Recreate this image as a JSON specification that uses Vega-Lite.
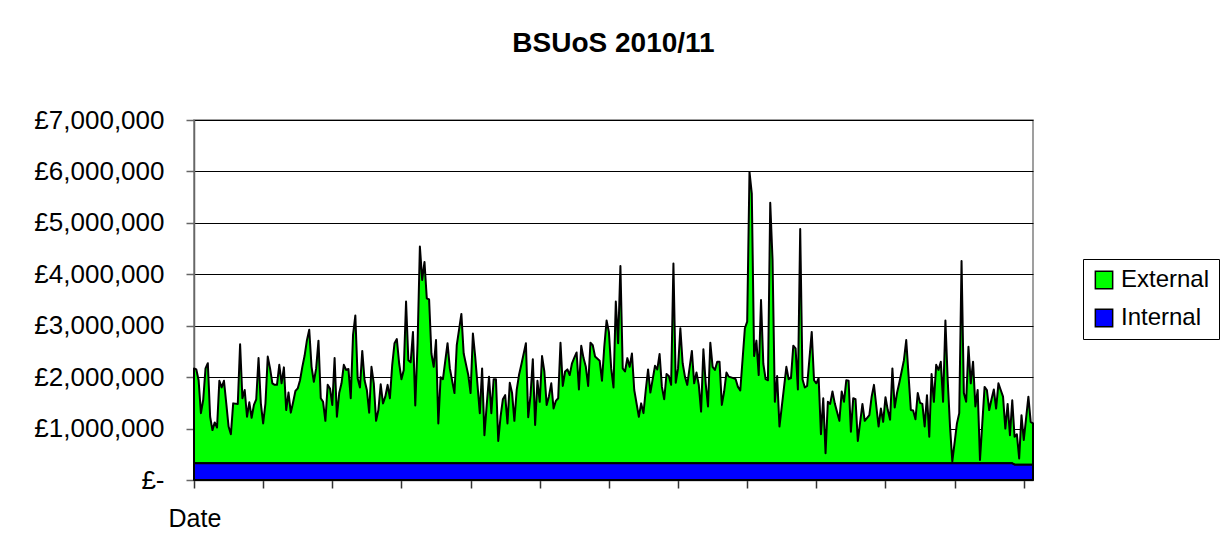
{
"$schema": "https://vega.github.io/schema/vega-lite/v6.json",
"width": 839,
"height": 360,
"autosize": {"type": "none"},
"padding": {"left": 194, "top": 120, "right": 191, "bottom": 78},
"background": "white",
"title": {"text": "BSUoS 2010/11", "font": "Liberation Sans", "fontSize": 28, "fontWeight": "bold", "color": "black", "anchor": "middle", "offset": 49},
"data": {"format": {"parse": {"Date": "date:'%Y-%m-%d'"}}, "values": [
{"Date":"2010-04-01","Internal":324000,"External":1846000},
{"Date":"2010-04-02","Internal":324000,"External":1826000},
{"Date":"2010-04-03","Internal":324000,"External":1616000},
{"Date":"2010-04-04","Internal":324000,"External":976000},
{"Date":"2010-04-05","Internal":324000,"External":1236000},
{"Date":"2010-04-06","Internal":324000,"External":1846000},
{"Date":"2010-04-07","Internal":324000,"External":1946000},
{"Date":"2010-04-08","Internal":324000,"External":906000},
{"Date":"2010-04-09","Internal":324000,"External":646000},
{"Date":"2010-04-10","Internal":324000,"External":796000},
{"Date":"2010-04-11","Internal":324000,"External":696000},
{"Date":"2010-04-12","Internal":324000,"External":1606000},
{"Date":"2010-04-13","Internal":324000,"External":1476000},
{"Date":"2010-04-14","Internal":324000,"External":1606000},
{"Date":"2010-04-15","Internal":324000,"External":1166000},
{"Date":"2010-04-16","Internal":324000,"External":716000},
{"Date":"2010-04-17","Internal":324000,"External":566000},
{"Date":"2010-04-18","Internal":324000,"External":1166000},
{"Date":"2010-04-20","Internal":324000,"External":1156000},
{"Date":"2010-04-21","Internal":324000,"External":2316000},
{"Date":"2010-04-22","Internal":324000,"External":1266000},
{"Date":"2010-04-23","Internal":324000,"External":1426000},
{"Date":"2010-04-24","Internal":324000,"External":906000},
{"Date":"2010-04-25","Internal":324000,"External":1186000},
{"Date":"2010-04-26","Internal":324000,"External":886000},
{"Date":"2010-04-27","Internal":324000,"External":1136000},
{"Date":"2010-04-28","Internal":324000,"External":1246000},
{"Date":"2010-04-29","Internal":324000,"External":2046000},
{"Date":"2010-04-30","Internal":324000,"External":1166000},
{"Date":"2010-05-01","Internal":324000,"External":776000},
{"Date":"2010-05-02","Internal":324000,"External":1166000},
{"Date":"2010-05-03","Internal":324000,"External":2076000},
{"Date":"2010-05-04","Internal":324000,"External":1846000},
{"Date":"2010-05-05","Internal":324000,"External":1556000},
{"Date":"2010-05-06","Internal":324000,"External":1526000},
{"Date":"2010-05-07","Internal":324000,"External":1526000},
{"Date":"2010-05-08","Internal":324000,"External":1916000},
{"Date":"2010-05-09","Internal":324000,"External":1556000},
{"Date":"2010-05-10","Internal":324000,"External":1866000},
{"Date":"2010-05-11","Internal":324000,"External":1036000},
{"Date":"2010-05-12","Internal":324000,"External":1376000},
{"Date":"2010-05-13","Internal":324000,"External":986000},
{"Date":"2010-05-14","Internal":324000,"External":1186000},
{"Date":"2010-05-15","Internal":324000,"External":1406000},
{"Date":"2010-05-16","Internal":324000,"External":1456000},
{"Date":"2010-05-17","Internal":324000,"External":1616000},
{"Date":"2010-05-18","Internal":324000,"External":1876000},
{"Date":"2010-05-19","Internal":324000,"External":2096000},
{"Date":"2010-05-20","Internal":324000,"External":2396000},
{"Date":"2010-05-21","Internal":324000,"External":2596000},
{"Date":"2010-05-22","Internal":324000,"External":1876000},
{"Date":"2010-05-23","Internal":324000,"External":1586000},
{"Date":"2010-05-24","Internal":324000,"External":1846000},
{"Date":"2010-05-25","Internal":324000,"External":2386000},
{"Date":"2010-05-26","Internal":324000,"External":1266000},
{"Date":"2010-05-27","Internal":324000,"External":1196000},
{"Date":"2010-05-28","Internal":324000,"External":826000},
{"Date":"2010-05-29","Internal":324000,"External":1526000},
{"Date":"2010-05-30","Internal":324000,"External":1456000},
{"Date":"2010-05-31","Internal":324000,"External":1136000},
{"Date":"2010-06-01","Internal":324000,"External":2046000},
{"Date":"2010-06-02","Internal":324000,"External":906000},
{"Date":"2010-06-03","Internal":324000,"External":1366000},
{"Date":"2010-06-04","Internal":324000,"External":1556000},
{"Date":"2010-06-05","Internal":324000,"External":1916000},
{"Date":"2010-06-06","Internal":324000,"External":1816000},
{"Date":"2010-06-07","Internal":324000,"External":1836000},
{"Date":"2010-06-08","Internal":324000,"External":1266000},
{"Date":"2010-06-09","Internal":324000,"External":2496000},
{"Date":"2010-06-10","Internal":324000,"External":2876000},
{"Date":"2010-06-11","Internal":324000,"External":1656000},
{"Date":"2010-06-12","Internal":324000,"External":1476000},
{"Date":"2010-06-13","Internal":324000,"External":2186000},
{"Date":"2010-06-14","Internal":324000,"External":1616000},
{"Date":"2010-06-15","Internal":324000,"External":1426000},
{"Date":"2010-06-16","Internal":324000,"External":986000},
{"Date":"2010-06-17","Internal":324000,"External":1876000},
{"Date":"2010-06-18","Internal":324000,"External":1556000},
{"Date":"2010-06-19","Internal":324000,"External":826000},
{"Date":"2010-06-20","Internal":324000,"External":1036000},
{"Date":"2010-06-21","Internal":324000,"External":1536000},
{"Date":"2010-06-22","Internal":324000,"External":1166000},
{"Date":"2010-06-23","Internal":324000,"External":1296000},
{"Date":"2010-06-24","Internal":324000,"External":1526000},
{"Date":"2010-06-25","Internal":324000,"External":1266000},
{"Date":"2010-06-26","Internal":324000,"External":1916000},
{"Date":"2010-06-27","Internal":324000,"External":2336000},
{"Date":"2010-06-28","Internal":324000,"External":2416000},
{"Date":"2010-06-29","Internal":324000,"External":1946000},
{"Date":"2010-06-30","Internal":324000,"External":1636000},
{"Date":"2010-07-01","Internal":324000,"External":1816000},
{"Date":"2010-07-02","Internal":324000,"External":3146000},
{"Date":"2010-07-03","Internal":324000,"External":2006000},
{"Date":"2010-07-04","Internal":324000,"External":1966000},
{"Date":"2010-07-05","Internal":324000,"External":2556000},
{"Date":"2010-07-06","Internal":324000,"External":1126000},
{"Date":"2010-07-07","Internal":324000,"External":2336000},
{"Date":"2010-07-08","Internal":324000,"External":4216000},
{"Date":"2010-07-09","Internal":324000,"External":3566000},
{"Date":"2010-07-10","Internal":324000,"External":3916000},
{"Date":"2010-07-11","Internal":324000,"External":3206000},
{"Date":"2010-07-12","Internal":324000,"External":3186000},
{"Date":"2010-07-13","Internal":324000,"External":2136000},
{"Date":"2010-07-14","Internal":324000,"External":1876000},
{"Date":"2010-07-15","Internal":324000,"External":2396000},
{"Date":"2010-07-16","Internal":324000,"External":776000},
{"Date":"2010-07-17","Internal":324000,"External":1676000},
{"Date":"2010-07-18","Internal":324000,"External":1636000},
{"Date":"2010-07-20","Internal":324000,"External":2336000},
{"Date":"2010-07-21","Internal":324000,"External":1846000},
{"Date":"2010-07-23","Internal":324000,"External":1366000},
{"Date":"2010-07-24","Internal":324000,"External":2296000},
{"Date":"2010-07-26","Internal":324000,"External":2906000},
{"Date":"2010-07-27","Internal":324000,"External":2136000},
{"Date":"2010-07-29","Internal":324000,"External":1716000},
{"Date":"2010-07-30","Internal":324000,"External":1366000},
{"Date":"2010-07-31","Internal":324000,"External":2526000},
{"Date":"2010-08-01","Internal":324000,"External":2076000},
{"Date":"2010-08-03","Internal":324000,"External":976000},
{"Date":"2010-08-04","Internal":324000,"External":1846000},
{"Date":"2010-08-05","Internal":324000,"External":546000},
{"Date":"2010-08-06","Internal":324000,"External":1136000},
{"Date":"2010-08-07","Internal":324000,"External":1686000},
{"Date":"2010-08-08","Internal":324000,"External":976000},
{"Date":"2010-08-09","Internal":324000,"External":1636000},
{"Date":"2010-08-10","Internal":324000,"External":1636000},
{"Date":"2010-08-11","Internal":324000,"External":436000},
{"Date":"2010-08-12","Internal":324000,"External":906000},
{"Date":"2010-08-13","Internal":324000,"External":1246000},
{"Date":"2010-08-14","Internal":324000,"External":1326000},
{"Date":"2010-08-15","Internal":324000,"External":776000},
{"Date":"2010-08-16","Internal":324000,"External":1566000},
{"Date":"2010-08-17","Internal":324000,"External":1366000},
{"Date":"2010-08-18","Internal":324000,"External":826000},
{"Date":"2010-08-19","Internal":324000,"External":1426000},
{"Date":"2010-08-20","Internal":324000,"External":1716000},
{"Date":"2010-08-21","Internal":324000,"External":1916000},
{"Date":"2010-08-23","Internal":324000,"External":2336000},
{"Date":"2010-08-24","Internal":324000,"External":896000},
{"Date":"2010-08-25","Internal":324000,"External":1326000},
{"Date":"2010-08-26","Internal":324000,"External":2026000},
{"Date":"2010-08-27","Internal":324000,"External":746000},
{"Date":"2010-08-28","Internal":324000,"External":1606000},
{"Date":"2010-08-29","Internal":324000,"External":1196000},
{"Date":"2010-08-30","Internal":324000,"External":2086000},
{"Date":"2010-08-31","Internal":324000,"External":1786000},
{"Date":"2010-09-01","Internal":324000,"External":1136000},
{"Date":"2010-09-02","Internal":324000,"External":1306000},
{"Date":"2010-09-03","Internal":324000,"External":1556000},
{"Date":"2010-09-04","Internal":324000,"External":1066000},
{"Date":"2010-09-05","Internal":324000,"External":1216000},
{"Date":"2010-09-06","Internal":324000,"External":1266000},
{"Date":"2010-09-07","Internal":324000,"External":2346000},
{"Date":"2010-09-08","Internal":324000,"External":1506000},
{"Date":"2010-09-09","Internal":324000,"External":1786000},
{"Date":"2010-09-10","Internal":324000,"External":1826000},
{"Date":"2010-09-11","Internal":324000,"External":1716000},
{"Date":"2010-09-12","Internal":324000,"External":1946000},
{"Date":"2010-09-13","Internal":324000,"External":2056000},
{"Date":"2010-09-14","Internal":324000,"External":2156000},
{"Date":"2010-09-15","Internal":324000,"External":1436000},
{"Date":"2010-09-16","Internal":324000,"External":2286000},
{"Date":"2010-09-17","Internal":324000,"External":2046000},
{"Date":"2010-09-18","Internal":324000,"External":1876000},
{"Date":"2010-09-19","Internal":324000,"External":1506000},
{"Date":"2010-09-20","Internal":324000,"External":2346000},
{"Date":"2010-09-21","Internal":324000,"External":2296000},
{"Date":"2010-09-22","Internal":324000,"External":2076000},
{"Date":"2010-09-24","Internal":324000,"External":1996000},
{"Date":"2010-09-25","Internal":324000,"External":1606000},
{"Date":"2010-09-26","Internal":324000,"External":2266000},
{"Date":"2010-09-27","Internal":324000,"External":2776000},
{"Date":"2010-09-28","Internal":324000,"External":2556000},
{"Date":"2010-09-29","Internal":324000,"External":1846000},
{"Date":"2010-09-30","Internal":324000,"External":1476000},
{"Date":"2010-10-01","Internal":324000,"External":3146000},
{"Date":"2010-10-02","Internal":324000,"External":2336000},
{"Date":"2010-10-03","Internal":324000,"External":3836000},
{"Date":"2010-10-04","Internal":324000,"External":1846000},
{"Date":"2010-10-05","Internal":324000,"External":1786000},
{"Date":"2010-10-06","Internal":324000,"External":2046000},
{"Date":"2010-10-07","Internal":324000,"External":1876000},
{"Date":"2010-10-08","Internal":324000,"External":2136000},
{"Date":"2010-10-09","Internal":324000,"External":1426000},
{"Date":"2010-10-11","Internal":324000,"External":906000},
{"Date":"2010-10-12","Internal":324000,"External":1166000},
{"Date":"2010-10-13","Internal":324000,"External":976000},
{"Date":"2010-10-14","Internal":324000,"External":1426000},
{"Date":"2010-10-15","Internal":324000,"External":1826000},
{"Date":"2010-10-16","Internal":324000,"External":1376000},
{"Date":"2010-10-18","Internal":324000,"External":1896000},
{"Date":"2010-10-19","Internal":324000,"External":1826000},
{"Date":"2010-10-20","Internal":324000,"External":2126000},
{"Date":"2010-10-21","Internal":324000,"External":1486000},
{"Date":"2010-10-22","Internal":324000,"External":1246000},
{"Date":"2010-10-23","Internal":324000,"External":1736000},
{"Date":"2010-10-24","Internal":324000,"External":1696000},
{"Date":"2010-10-25","Internal":324000,"External":1526000},
{"Date":"2010-10-26","Internal":324000,"External":3886000},
{"Date":"2010-10-27","Internal":324000,"External":1566000},
{"Date":"2010-10-28","Internal":324000,"External":1846000},
{"Date":"2010-10-29","Internal":324000,"External":2626000},
{"Date":"2010-10-30","Internal":324000,"External":1946000},
{"Date":"2010-10-31","Internal":324000,"External":1686000},
{"Date":"2010-11-01","Internal":324000,"External":1526000},
{"Date":"2010-11-03","Internal":324000,"External":2186000},
{"Date":"2010-11-04","Internal":324000,"External":1556000},
{"Date":"2010-11-05","Internal":324000,"External":1766000},
{"Date":"2010-11-06","Internal":324000,"External":1526000},
{"Date":"2010-11-07","Internal":324000,"External":1006000},
{"Date":"2010-11-08","Internal":324000,"External":2216000},
{"Date":"2010-11-09","Internal":324000,"External":1556000},
{"Date":"2010-11-10","Internal":324000,"External":1106000},
{"Date":"2010-11-11","Internal":324000,"External":2346000},
{"Date":"2010-11-12","Internal":324000,"External":1876000},
{"Date":"2010-11-13","Internal":324000,"External":1816000},
{"Date":"2010-11-14","Internal":324000,"External":1976000},
{"Date":"2010-11-15","Internal":324000,"External":1976000},
{"Date":"2010-11-16","Internal":324000,"External":1136000},
{"Date":"2010-11-17","Internal":324000,"External":1396000},
{"Date":"2010-11-18","Internal":324000,"External":1766000},
{"Date":"2010-11-19","Internal":324000,"External":1686000},
{"Date":"2010-11-21","Internal":324000,"External":1656000},
{"Date":"2010-11-22","Internal":324000,"External":1636000},
{"Date":"2010-11-23","Internal":324000,"External":1486000},
{"Date":"2010-11-24","Internal":324000,"External":1416000},
{"Date":"2010-11-26","Internal":324000,"External":2626000},
{"Date":"2010-11-27","Internal":324000,"External":2756000},
{"Date":"2010-11-28","Internal":324000,"External":5666000},
{"Date":"2010-11-29","Internal":324000,"External":5246000},
{"Date":"2010-11-30","Internal":324000,"External":2086000},
{"Date":"2010-12-01","Internal":324000,"External":2386000},
{"Date":"2010-12-02","Internal":324000,"External":1716000},
{"Date":"2010-12-03","Internal":324000,"External":3176000},
{"Date":"2010-12-04","Internal":324000,"External":1936000},
{"Date":"2010-12-05","Internal":324000,"External":1636000},
{"Date":"2010-12-06","Internal":324000,"External":1616000},
{"Date":"2010-12-07","Internal":324000,"External":5066000},
{"Date":"2010-12-08","Internal":324000,"External":3956000},
{"Date":"2010-12-09","Internal":324000,"External":1196000},
{"Date":"2010-12-10","Internal":324000,"External":1696000},
{"Date":"2010-12-11","Internal":324000,"External":716000},
{"Date":"2010-12-13","Internal":324000,"External":1486000},
{"Date":"2010-12-14","Internal":324000,"External":1876000},
{"Date":"2010-12-15","Internal":324000,"External":1636000},
{"Date":"2010-12-16","Internal":324000,"External":1656000},
{"Date":"2010-12-17","Internal":324000,"External":2286000},
{"Date":"2010-12-18","Internal":324000,"External":2236000},
{"Date":"2010-12-19","Internal":324000,"External":1436000},
{"Date":"2010-12-20","Internal":324000,"External":4556000},
{"Date":"2010-12-21","Internal":324000,"External":1636000},
{"Date":"2010-12-22","Internal":324000,"External":1476000},
{"Date":"2010-12-23","Internal":324000,"External":1506000},
{"Date":"2010-12-25","Internal":324000,"External":2556000},
{"Date":"2010-12-26","Internal":324000,"External":1616000},
{"Date":"2010-12-27","Internal":324000,"External":1556000},
{"Date":"2010-12-28","Internal":324000,"External":1656000},
{"Date":"2010-12-29","Internal":324000,"External":566000},
{"Date":"2010-12-30","Internal":324000,"External":1266000},
{"Date":"2010-12-31","Internal":324000,"External":196000},
{"Date":"2011-01-01","Internal":324000,"External":1196000},
{"Date":"2011-01-02","Internal":324000,"External":1156000},
{"Date":"2011-01-03","Internal":324000,"External":1396000},
{"Date":"2011-01-04","Internal":324000,"External":1166000},
{"Date":"2011-01-06","Internal":324000,"External":826000},
{"Date":"2011-01-07","Internal":324000,"External":1396000},
{"Date":"2011-01-08","Internal":324000,"External":1196000},
{"Date":"2011-01-09","Internal":324000,"External":1616000},
{"Date":"2011-01-10","Internal":324000,"External":1606000},
{"Date":"2011-01-11","Internal":324000,"External":616000},
{"Date":"2011-01-12","Internal":324000,"External":1266000},
{"Date":"2011-01-13","Internal":324000,"External":1246000},
{"Date":"2011-01-14","Internal":324000,"External":436000},
{"Date":"2011-01-16","Internal":324000,"External":1156000},
{"Date":"2011-01-17","Internal":324000,"External":826000},
{"Date":"2011-01-19","Internal":324000,"External":936000},
{"Date":"2011-01-20","Internal":324000,"External":1296000},
{"Date":"2011-01-21","Internal":324000,"External":1526000},
{"Date":"2011-01-23","Internal":324000,"External":716000},
{"Date":"2011-01-24","Internal":324000,"External":1066000},
{"Date":"2011-01-25","Internal":324000,"External":806000},
{"Date":"2011-01-26","Internal":324000,"External":1286000},
{"Date":"2011-01-27","Internal":324000,"External":1036000},
{"Date":"2011-01-28","Internal":324000,"External":846000},
{"Date":"2011-01-29","Internal":324000,"External":1846000},
{"Date":"2011-01-30","Internal":324000,"External":1086000},
{"Date":"2011-01-31","Internal":324000,"External":1366000},
{"Date":"2011-02-01","Internal":324000,"External":1566000},
{"Date":"2011-02-02","Internal":324000,"External":1786000},
{"Date":"2011-02-03","Internal":324000,"External":2006000},
{"Date":"2011-02-04","Internal":324000,"External":2396000},
{"Date":"2011-02-06","Internal":324000,"External":1036000},
{"Date":"2011-02-07","Internal":324000,"External":1026000},
{"Date":"2011-02-08","Internal":324000,"External":856000},
{"Date":"2011-02-09","Internal":324000,"External":1366000},
{"Date":"2011-02-10","Internal":324000,"External":1176000},
{"Date":"2011-02-11","Internal":324000,"External":1156000},
{"Date":"2011-02-12","Internal":324000,"External":716000},
{"Date":"2011-02-13","Internal":324000,"External":1326000},
{"Date":"2011-02-14","Internal":324000,"External":516000},
{"Date":"2011-02-15","Internal":324000,"External":1736000},
{"Date":"2011-02-16","Internal":324000,"External":1196000},
{"Date":"2011-02-17","Internal":324000,"External":1916000},
{"Date":"2011-02-18","Internal":324000,"External":1816000},
{"Date":"2011-02-19","Internal":324000,"External":1976000},
{"Date":"2011-02-20","Internal":324000,"External":1196000},
{"Date":"2011-02-21","Internal":324000,"External":2776000},
{"Date":"2011-02-22","Internal":324000,"External":1616000},
{"Date":"2011-02-23","Internal":324000,"External":716000},
{"Date":"2011-02-24","Internal":324000,"External":36000},
{"Date":"2011-02-26","Internal":324000,"External":776000},
{"Date":"2011-02-27","Internal":324000,"External":976000},
{"Date":"2011-02-28","Internal":324000,"External":3936000},
{"Date":"2011-03-01","Internal":324000,"External":1366000},
{"Date":"2011-03-02","Internal":324000,"External":1196000},
{"Date":"2011-03-03","Internal":324000,"External":2266000},
{"Date":"2011-03-04","Internal":324000,"External":1556000},
{"Date":"2011-03-05","Internal":324000,"External":1976000},
{"Date":"2011-03-06","Internal":324000,"External":1106000},
{"Date":"2011-03-07","Internal":324000,"External":1426000},
{"Date":"2011-03-08","Internal":324000,"External":66000},
{"Date":"2011-03-09","Internal":324000,"External":776000},
{"Date":"2011-03-10","Internal":324000,"External":1486000},
{"Date":"2011-03-11","Internal":324000,"External":1426000},
{"Date":"2011-03-12","Internal":324000,"External":1036000},
{"Date":"2011-03-13","Internal":324000,"External":1246000},
{"Date":"2011-03-14","Internal":324000,"External":1436000},
{"Date":"2011-03-15","Internal":324000,"External":1066000},
{"Date":"2011-03-16","Internal":324000,"External":1556000},
{"Date":"2011-03-17","Internal":324000,"External":1426000},
{"Date":"2011-03-18","Internal":324000,"External":1296000},
{"Date":"2011-03-19","Internal":324000,"External":676000},
{"Date":"2011-03-20","Internal":324000,"External":1156000},
{"Date":"2011-03-21","Internal":324000,"External":546000},
{"Date":"2011-03-22","Internal":324000,"External":1226000},
{"Date":"2011-03-23","Internal":298000,"External":542000},
{"Date":"2011-03-24","Internal":298000,"External":592000},
{"Date":"2011-03-25","Internal":298000,"External":122000},
{"Date":"2011-03-26","Internal":298000,"External":962000},
{"Date":"2011-03-27","Internal":298000,"External":482000},
{"Date":"2011-03-29","Internal":298000,"External":1322000},
{"Date":"2011-03-30","Internal":298000,"External":832000},
{"Date":"2011-03-31","Internal":298000,"External":802000}
]},
"transform": [{"fold": ["External", "Internal"], "as": ["Type", "Value"]}],
"mark": {"type": "area", "stroke": "black", "strokeWidth": 2, "strokeJoin": "round", "opacity": 1, "fillOpacity": 1},
"encoding": {
"x": {"field": "Date", "type": "temporal",
"scale": {"domain": [{"year": 2010, "month": 4, "date": 1}, {"year": 2011, "month": 3, "date": 31}], "nice": false},
"axis": {"title": "Date", "labels": false, "grid": false,
"values": [{"year": 2010, "month": 4, "date": 1}, {"year": 2010, "month": 5, "date": 1}, {"year": 2010, "month": 5, "date": 31}, {"year": 2010, "month": 6, "date": 30}, {"year": 2010, "month": 7, "date": 30}, {"year": 2010, "month": 8, "date": 29}, {"year": 2010, "month": 9, "date": 28}, {"year": 2010, "month": 10, "date": 28}, {"year": 2010, "month": 11, "date": 27}, {"year": 2010, "month": 12, "date": 27}, {"year": 2011, "month": 1, "date": 26}, {"year": 2011, "month": 2, "date": 25}, {"year": 2011, "month": 3, "date": 27}],
"tickSize": 8, "tickColor": "#333333", "tickWidth": 1.5, "domainColor": "#666666", "domainWidth": 1.5,
"titleFont": "Liberation Sans", "titleFontSize": 25, "titleFontWeight": "normal", "titleColor": "black",
"titleAnchor": "start", "titleAlign": "left", "titleBaseline": "middle", "titleX": -26, "titleY": 38}},
"y": {"field": "Value", "type": "quantitative", "stack": "zero",
"scale": {"domain": [0, 7000000], "nice": false},
"axis": {"title": null, "values": [0, 1000000, 2000000, 3000000, 4000000, 5000000, 6000000, 7000000],
"labelExpr": "datum.value == 0 ? '£-' : '£' + format(datum.value, ',')",
"labelFont": "Liberation Sans", "labelFontSize": 26, "labelColor": "black", "labelPadding": 22,
"tickSize": 8, "tickColor": "#666666", "tickWidth": 1.5, "domainColor": "#666666", "domainWidth": 1.5,
"grid": true, "gridColor": "black", "gridWidth": 1}},
"color": {"field": "Type", "type": "nominal",
"scale": {"domain": ["External", "Internal"], "range": ["#00FF00", "#0000FF"]},
"legend": {"title": null, "orient": "none", "legendX": 889, "legendY": 139, "direction": "vertical",
"strokeColor": "black", "fillColor": "white", "padding": 9,
"labelFont": "Liberation Sans", "labelFontSize": 24, "labelColor": "black", "labelOffset": 5,
"symbolType": "square", "symbolSize": 300, "symbolStrokeColor": "black", "symbolStrokeWidth": 1.5, "symbolOpacity": 1, "rowPadding": 14}},
"order": {"field": "Type", "sort": "descending"}
},
"config": {"view": {"stroke": "#808080", "strokeWidth": 1.5}, "font": "Liberation Sans"}
}
